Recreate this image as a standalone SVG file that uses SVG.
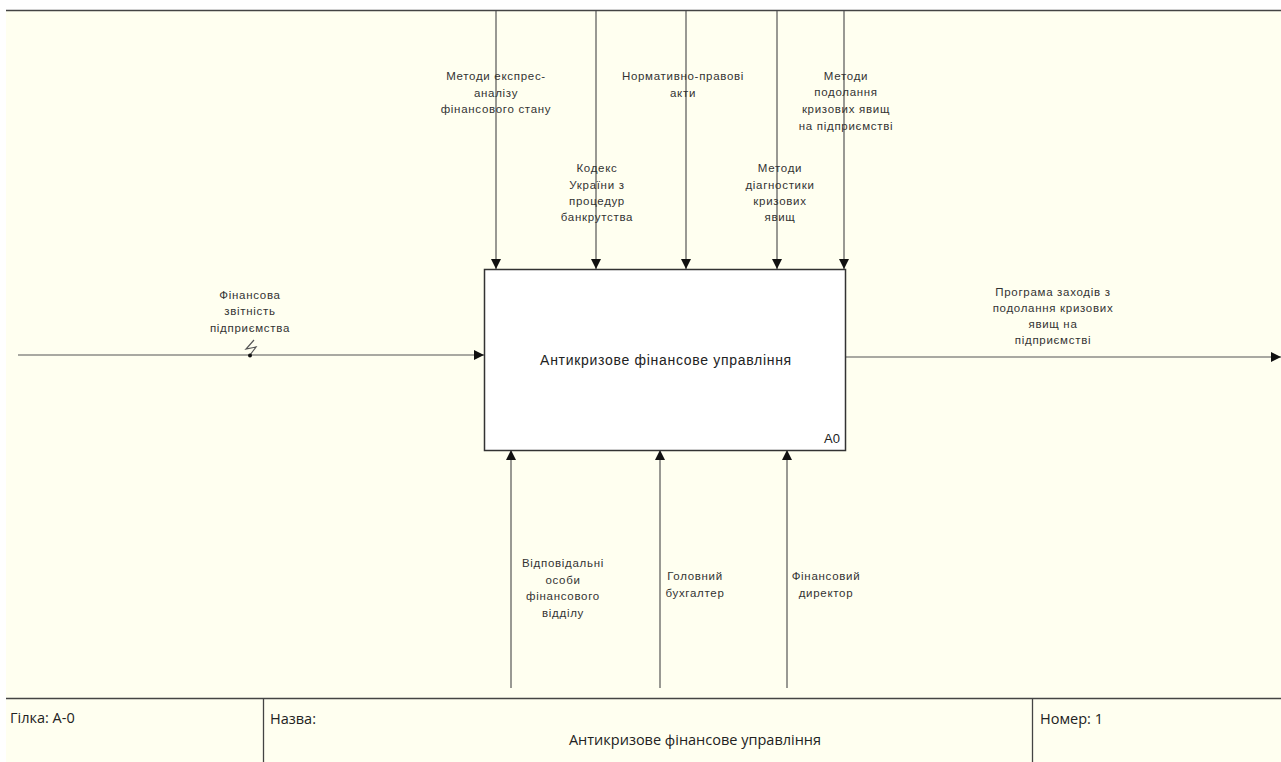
<svg xmlns="http://www.w3.org/2000/svg" width="1281" height="762" viewBox="0 0 1281 762">
<defs>
<style>
.lbl{font-family:"Liberation Sans",Arial,sans-serif;font-size:11.5px;letter-spacing:0.7px;fill:#333;text-anchor:middle}
.ttl{font-family:"Liberation Sans",Arial,sans-serif;font-size:14px;letter-spacing:0.7px;fill:#222;text-anchor:middle}
.ft{font-family:"Open Sans","Liberation Sans",sans-serif;font-size:14.5px;fill:#222}
.ln{stroke:#555;stroke-width:1.2;fill:none}
.fr{stroke:#444;stroke-width:1.3;fill:none}
</style>
<marker id="ah" viewBox="0 0 10 10" refX="10" refY="5" markerWidth="10" markerHeight="10" markerUnits="userSpaceOnUse" orient="auto">
<path d="M0,0 L10,5 L0,10 Z" fill="#111"/>
</marker>
</defs>
<rect x="0" y="0" width="1281" height="762" fill="#ffffff"/>
<rect x="6" y="10" width="1275" height="752" fill="#fffff0"/>
<g id="frame">
<line class="fr" x1="6" y1="10.5" x2="1281" y2="10.5"/>
<line class="fr" x1="6" y1="698.5" x2="1281" y2="698.5"/>
<line class="fr" x1="263.5" y1="698" x2="263.5" y2="762"/>
<line class="fr" x1="1032.5" y1="698" x2="1032.5" y2="762"/>
</g>
<g id="connectors">
<line class="ln" x1="496" y1="11" x2="496" y2="269" marker-end="url(#ah)"/>
<line class="ln" x1="596" y1="11" x2="596" y2="269" marker-end="url(#ah)"/>
<line class="ln" x1="686" y1="11" x2="686" y2="269" marker-end="url(#ah)"/>
<line class="ln" x1="777" y1="11" x2="777" y2="269" marker-end="url(#ah)"/>
<line class="ln" x1="844" y1="11" x2="844" y2="269" marker-end="url(#ah)"/>
<line class="ln" x1="511" y1="688" x2="511" y2="450" marker-end="url(#ah)"/>
<line class="ln" x1="660" y1="688" x2="660" y2="450" marker-end="url(#ah)"/>
<line class="ln" x1="787" y1="688" x2="787" y2="450" marker-end="url(#ah)"/>
<line class="ln" x1="18" y1="355" x2="484" y2="355" marker-end="url(#ah)"/>
<line class="ln" x1="846" y1="357" x2="1281" y2="357" marker-end="url(#ah)"/>
<path class="ln" d="M254,340 L246,349 L256,347 L250,355" stroke-width="0.9"/>
<circle cx="250" cy="355.5" r="2" fill="#111"/>
</g>
<g id="labels">
<text class="lbl" x="496" y="80">Методи експрес-</text>
<text class="lbl" x="496" y="97">аналізу</text>
<text class="lbl" x="496" y="113">фінансового стану</text>
<text class="lbl" x="683" y="80">Нормативно-правові</text>
<text class="lbl" x="683" y="97">акти</text>
<text class="lbl" x="846" y="80">Методи</text>
<text class="lbl" x="846" y="96">подолання</text>
<text class="lbl" x="846" y="113">кризових явищ</text>
<text class="lbl" x="846" y="130">на підприємстві</text>
<text class="lbl" x="597" y="172">Кодекс</text>
<text class="lbl" x="597" y="189">України з</text>
<text class="lbl" x="597" y="205">процедур</text>
<text class="lbl" x="597" y="221">банкрутства</text>
<text class="lbl" x="780" y="172">Методи</text>
<text class="lbl" x="780" y="189">діагностики</text>
<text class="lbl" x="780" y="205">кризових</text>
<text class="lbl" x="780" y="221">явищ</text>
<text class="lbl" x="250" y="299">Фінансова</text>
<text class="lbl" x="250" y="315">звітність</text>
<text class="lbl" x="250" y="332">підприємства</text>
<text class="lbl" x="1053" y="296">Програма заходів з</text>
<text class="lbl" x="1053" y="312">подолання кризових</text>
<text class="lbl" x="1053" y="328">явищ на</text>
<text class="lbl" x="1053" y="344">підприємстві</text>
<text class="lbl" x="563" y="567">Відповідальні</text>
<text class="lbl" x="563" y="584">особи</text>
<text class="lbl" x="563" y="600">фінансового</text>
<text class="lbl" x="563" y="617">відділу</text>
<text class="lbl" x="695" y="580">Головний</text>
<text class="lbl" x="695" y="597">бухгалтер</text>
<text class="lbl" x="826" y="580">Фінансовий</text>
<text class="lbl" x="826" y="597">директор</text>
</g>
<g id="node-A0">
<rect x="484.5" y="269.5" width="361" height="181" fill="#ffffff" stroke="#333" stroke-width="1.5"/>
<text class="ttl" x="666" y="365">Антикризове фінансове управління</text>
<text x="840" y="443" font-family="Liberation Sans,Arial,sans-serif" font-size="13" fill="#222" text-anchor="end">A0</text>
</g>
<g id="footer">
<text class="ft" x="10" y="723">Гілка: А-0</text>
<text class="ft" x="270" y="724">Назва:</text>
<text class="ft" x="695" y="745" text-anchor="middle">Антикризове фінансове управління</text>
<text class="ft" x="1040" y="724">Номер: 1</text>
</g>
</svg>
